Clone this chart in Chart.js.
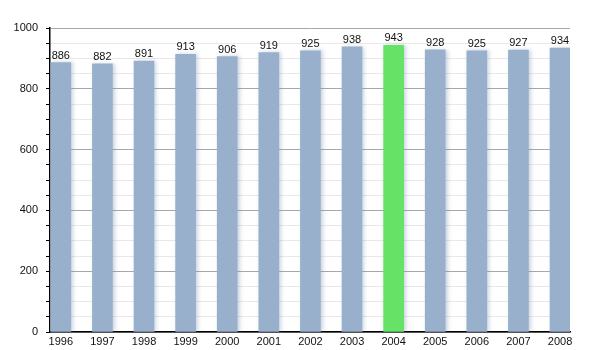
<!DOCTYPE html>
<html>
<head>
<meta charset="utf-8">
<script src="https://cdn.jsdelivr.net/npm/chart.js@4/dist/chart.umd.min.js"></script>
<style>
  html, body { margin: 0; padding: 0; background: #fff; }
  #wrap { width: 600px; height: 350px; position: relative; }
</style>
</head>
<body>
<div id="wrap"><canvas id="popChart"></canvas></div>
<script>
// ==== DATA ====
const years = [1996, 1997, 1998, 1999, 2000, 2001, 2002, 2003, 2004, 2005, 2006, 2007, 2008];
const population = [886, 882, 891, 913, 906, 919, 925, 938, 943, 928, 925, 927, 934];
const highlightYear = 2004;
const yTickLabels = [0, 200, 400, 600, 800, 1000];

const barBlue = "rgb(152, 176, 204)";
const barGreen = "rgb(102, 226, 102)";
const fontFamily = "'Liberation Sans', Arial, sans-serif";

// value labels above each bar
const valueLabels = {
  id: "valueLabels",
  afterDatasetsDraw(chart) {
    const ctx = chart.ctx;
    const meta = chart.getDatasetMeta(0);
    ctx.save();
    ctx.font = "11px " + fontFamily;
    ctx.fillStyle = "#111";
    ctx.textAlign = "center";
    ctx.textBaseline = "alphabetic";
    meta.data.forEach((bar, i) => {
      ctx.fillText(String(population[i]), bar.x, bar.y - 4);
    });
    ctx.restore();
  },
};

// soft shadow on the bars
const barShadow = {
  id: "barShadow",
  beforeDatasetsDraw(chart) {
    const ctx = chart.ctx;
    ctx.save();
    ctx.shadowColor = "rgba(110, 135, 170, 0.35)";
    ctx.shadowBlur = 4;
    ctx.shadowOffsetX = 2;
  },
  afterDatasetsDraw(chart) {
    chart.ctx.restore();
  },
};

const popCanvas = document.getElementById("popChart");
new Chart(popCanvas.getContext("2d"), {
  type: "bar",
  data: {
    datasets: [
      {
        data: years.map((y, i) => ({ x: y, y: population[i] })),
        backgroundColor: years.map((y) => (y === highlightYear ? barGreen : barBlue)),
        barThickness: 20,
        borderWidth: 0,
      },
    ],
  },
  plugins: [barShadow, valueLabels],
  options: {
    responsive: true,
    maintainAspectRatio: false,
    animation: false,
    layout: { padding: { top: 28, right: 30, left: 0, bottom: 0 } },
    plugins: {
      legend: { display: false },
      tooltip: { enabled: false },
    },
    scales: {
      x: {
        type: "linear",
        offset: false,
        min: 1995.74,
        max: 2008.24,
        afterBuildTicks: (scale) => {
          scale.ticks = years.map((v) => ({ value: v }));
        },
        afterFit: (scale) => {
          scale.height = 18;
        },
        grid: { display: false, drawTicks: false, offset: false },
        border: { display: true, color: "#000", width: 1.5 },
        ticks: {
          autoSkip: false,
          maxRotation: 0,
          padding: 3,
          color: "#111",
          font: { family: fontFamily, size: 11 },
          callback: (v) => String(v),
        },
      },
      y: {
        min: 0,
        max: 1000,
        afterFit: (scale) => {
          scale.width = 50;
        },
        grid: {
          color: (c) => (c.tick && c.tick.value % 200 === 0 ? "#a8a8a8" : "#ebe7e7"),
          tickColor: "#000",
          tickLength: 4,
          lineWidth: 1,
        },
        border: { display: true, color: "#000", width: 1.5 },
        ticks: {
          stepSize: 50,
          maxTicksLimit: 40,
          autoSkip: false,
          padding: 8,
          color: "#111",
          font: { family: fontFamily, size: 11 },
          callback: (v) => (yTickLabels.includes(v) ? String(v) : ""),
        },
      },
    },
  },
});
</script>
</body>
</html>
